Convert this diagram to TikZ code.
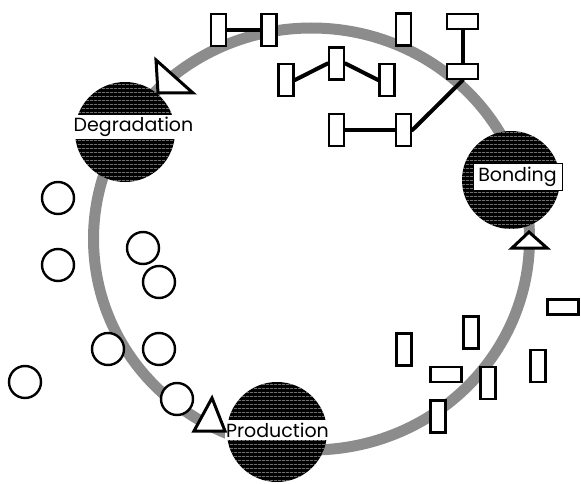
\documentclass[tikz,border=0pt]{standalone}
\usepackage{fontspec}
\setmainfont{Poppins}
\usetikzlibrary{patterns.meta}
\definecolor{ringGray}{RGB}{140,140,140}

\begin{document}
\begin{tikzpicture}[x=1pt,y=-1pt,
      unit/.style={draw,fill=white,line width=2.8pt,inner sep=0pt},
      vunit/.style={unit,minimum width=15pt,minimum height=32pt},
      hunit/.style={unit,minimum width=31pt,minimum height=15pt},
      mono/.style={circle,draw,fill=white,line width=2.4pt,minimum size=32pt,inner sep=0pt},
      phase/.style={circle,fill=black,minimum size=100pt,inner sep=0pt,
        postaction={pattern={Lines[angle=0,distance=4pt,line width=0.7pt]},pattern color=gray!65}},
      band/.style={fill=white,inner sep=0pt,font=\fontsize{19}{21}\selectfont},
      link/.style={line width=4pt,line cap=round},
      tri/.style={draw,fill=white,line width=3pt,line join=miter}]
    \useasboundingbox (0,0) rectangle (581,484);
    % the cycle
    \draw[ringGray,line width=11pt] (311.5,239) ellipse [x radius=218,y radius=211];
    % monomers
    \foreach \x/\y [count=\i] in {58/198,58/265,143/248,159/282,108/349,159/349,25/382,177/399}
      \node[mono] (m\i) at (\x,\y) {};
    % units
    \foreach \name/\x/\y/\kind in {
        u1/218.5/30/vunit, u2/269/30/vunit, u3/403.5/29.5/vunit,
        u4/462.5/21.5/hunit, u5/462.5/71.5/hunit,
        u6/286/80/vunit, u7/336.5/63.5/vunit, u8/387/80/vunit,
        u9/336.5/130/vunit, u10/403.5/130/vunit,
        ua/404/349.5/vunit, ub/471/332.5/vunit, uc/563/307/hunit,
        ud/538/366/vunit, ue/446/374.5/hunit, uf/488/383/vunit,
        ug/438/416.5/vunit}
      \node[\kind] (\name) at (\x,\y) {};
    \draw[link] (u1.east) -- (u2.west);
    \draw[link] (u6.east) -- (u7.west);
    \draw[link] (u7.east) -- (u8.west);
    \draw[link] (u9.east) -- (u10.west);
    \draw[link] (u10.east) -- (u5.south);
    \draw[link] (u4.south) -- (u5.north);
    % phases
    \node[phase] (degr) at (125,132) {};
    \node[band,minimum width=123pt,minimum height=24pt] (degrlab) at (133.5,127) {Degradation};
    \node[phase,minimum size=98pt] (bond) at (511,180) {};
    \node[band,draw,line width=0.8pt,minimum width=89pt,minimum height=27pt] (bondlab) at (517.5,176.5) {Bonding};
    \node[phase] (prod) at (277,432) {};
    \node[band,minimum width=106pt,minimum height=20pt] (prodlab) at (277.5,430) {Production};
    % arrow heads
    \draw[tri] (156,60) -- (158,93) -- (193,93) -- cycle;
    \draw[tri] (529,232) -- (512,248) -- (547,248) -- cycle;
    \draw[tri] (212,398) -- (194,431) -- (225,431) -- cycle;
  \end{tikzpicture}
\end{document}
